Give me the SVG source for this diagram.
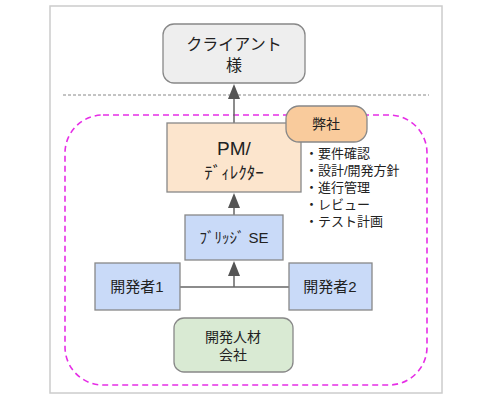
<svg xmlns="http://www.w3.org/2000/svg" width="500" height="400" viewBox="0 0 500 400">
<style>
text{font-family:"Liberation Sans","Noto Sans CJK JP",sans-serif;fill:#222;text-anchor:middle}
.box{stroke:#888;stroke-width:1.3}
.con{stroke:#666;stroke-width:1.5;fill:none}
.head{fill:#555}
.bul{text-anchor:start;font-size:13px}
</style>
<rect x="50" y="6" width="392" height="387" fill="#fff" stroke="#ccc" stroke-width="1.5"/>
<line x1="63" y1="95" x2="429" y2="95" stroke="#888" stroke-width="1" stroke-dasharray="3,2"/>
<rect x="65" y="115" width="362" height="270" rx="38" fill="none" stroke="#e62ee6" stroke-width="1.6" stroke-dasharray="6,4"/>
<g id="connectors">
<line class="con" x1="234" y1="123" x2="234" y2="90"/>
<path class="head" d="M228,99 L234,84 L240,99 z"/>
<line class="con" x1="234" y1="215" x2="234" y2="200"/>
<path class="head" d="M228,208 L234,193 L240,208 z"/>
<line class="con" x1="180" y1="287" x2="289" y2="287"/>
<line class="con" x1="234" y1="287" x2="234" y2="270"/>
<path class="head" d="M228,276 L234,261 L240,276 z"/>
</g>
<g id="client">
<rect class="box" x="163" y="24" width="142" height="59" rx="11" fill="#eeeeee"/>
<text x="234" y="50" font-size="16">クライアント</text>
<text x="234" y="71" font-size="16">様</text>
</g>
<g id="pm">
<rect class="box" x="167" y="123" width="134" height="69" fill="#fce5cd"/>
<text x="234" y="155" font-size="19">PM/</text>
<text x="234" y="179" font-size="17">ﾃﾞｨﾚｸﾀｰ</text>
</g>
<g id="company">
<rect class="box" x="286" y="106" width="81" height="36" rx="13" fill="#f9cb9c"/>
<text x="326" y="129" font-size="14">弊社</text>
</g>
<g id="tasks">
<text class="bul" x="305" y="158">・要件確認</text>
<text class="bul" x="305" y="175">・設計/開発方針</text>
<text class="bul" x="305" y="192">・進行管理</text>
<text class="bul" x="305" y="209">・レビュー</text>
<text class="bul" x="305" y="226">・テスト計画</text>
</g>
<g id="bridge">
<rect class="box" x="185" y="215" width="98" height="45" fill="#c9daf8"/>
<text x="234" y="243" font-size="15">ﾌﾞﾘｯｼﾞ SE</text>
</g>
<g id="dev1">
<rect class="box" x="95" y="263" width="85" height="47" fill="#c9daf8"/>
<text x="137" y="292" font-size="15">開発者1</text>
</g>
<g id="dev2">
<rect class="box" x="289" y="263" width="83" height="47" fill="#c9daf8"/>
<text x="330" y="292" font-size="15">開発者2</text>
</g>
<g id="partner">
<rect class="box" x="174" y="318" width="119" height="54" rx="10" fill="#d9ead3"/>
<text x="233" y="342" font-size="14">開発人材</text>
<text x="233" y="360" font-size="14">会社</text>
</g>
</svg>
